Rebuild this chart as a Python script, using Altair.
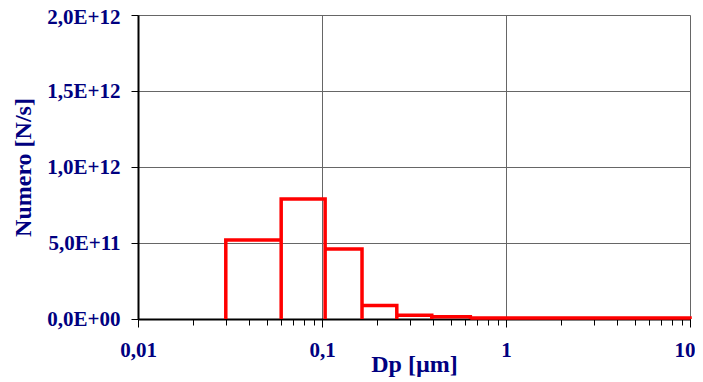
import altair as alt
import pandas as pd

# Bin edges (µm) and number values (N/s)
edges = [0.03, 0.06, 0.104, 0.165, 0.255, 0.395, 0.64, 10.0]
values = [5.2e11, 7.9e11, 4.6e11, 8.8e10, 2.4e10, 1.5e10, 7.0e9]

x_ticks = [0.01, 0.02, 0.03, 0.04, 0.05, 0.06, 0.07, 0.08, 0.09,
           0.1, 0.2, 0.3, 0.4, 0.5, 0.6, 0.7, 0.8, 0.9,
           1, 2, 3, 4, 5, 6, 7, 8, 9, 10]
y_ticks = [0, 5e11, 1e12, 1.5e12, 2e12]

# Outline path of the unfilled histogram bars (no segment along the baseline)
rows = []
for i, v in enumerate(values):
    lo, hi = edges[i], edges[i + 1]
    for xx, yy in [(lo, 0.0), (lo, v), (hi, v), (hi, 0.0)]:
        rows.append({"dp": xx, "n": yy, "idx": len(rows)})
df = pd.DataFrame(rows)

FONT = "Liberation Serif"
NAVY = "#000080"
decade = "abs(log(datum.value)/LN10 - round(log(datum.value)/LN10)) < 0.001"

x_axis = alt.Axis(
    values=x_ticks,
    labelExpr="(" + decade + ") ? replace(format(datum.value, '~g'), '.', ',') : ''",
    grid=True,
    gridColor="#666666",
    gridWidth=1,
    gridOpacity={"condition": {"test": decade, "value": 1}, "value": 0},
    tickSize={"condition": {"test": decade, "value": 8}, "value": 6},
    tickColor="#000000",
    tickWidth=1,
    domainColor="#000000",
    domainWidth=2,
    labelFont=FONT, labelFontSize=21, labelFontWeight="bold", labelColor=NAVY,
    labelPadding=12, labelOverlap=False, labelFlush=False,
    labelAlign={"condition": {"test": "datum.value >= 9.99", "value": "right"}, "value": "center"},
    labelOffset={"condition": {"test": "datum.value >= 9.99", "value": 5}, "value": 0},
    title="Dp [µm]",
    titleFont=FONT, titleFontSize=24, titleFontWeight="bold", titleColor=NAVY,
    titleBaseline="alphabetic",
    titleY=52,
)

y_axis = alt.Axis(
    values=y_ticks,
    labelExpr="datum.value == 0 ? '0,0E+00' : replace(upper(format(datum.value, '.1e')), '.', ',')",
    grid=True,
    gridColor="#666666",
    gridWidth=1,
    tickSize=7,
    tickColor="#000000",
    domainColor="#000000",
    domainWidth=2,
    labelFont=FONT, labelFontSize=21, labelFontWeight="bold", labelColor=NAVY,
    labelPadding=11, labelOverlap=False, labelFlush=False,
    labelOffset={"condition": {"test": "datum.value >= 1.99e12", "value": 2}, "value": 0},
    title="Numero [N/s]",
    titleFont=FONT, titleFontSize=24, titleFontWeight="bold", titleColor=NAVY,
    titlePadding=11,
)

chart = alt.Chart(df).mark_line(
    color="#ff0000", strokeWidth=3.5, strokeJoin="miter", strokeCap="butt"
).encode(
    x=alt.X("dp:Q", scale=alt.Scale(type="log", domain=[0.01, 10], nice=False), axis=x_axis),
    y=alt.Y("n:Q", scale=alt.Scale(domain=[0, 2e12], nice=False), axis=y_axis),
    order="idx:Q",
).properties(
    width=552,
    height=304,
    autosize=alt.AutoSizeParams(type="none"),
    padding={"left": 130, "top": 7, "right": 5, "bottom": 64},
).configure_view(
    stroke="#888888", strokeWidth=2
).configure(
    background="white"
)

chart.save("out.html", embed_options={"renderer": "svg", "actions": False})
